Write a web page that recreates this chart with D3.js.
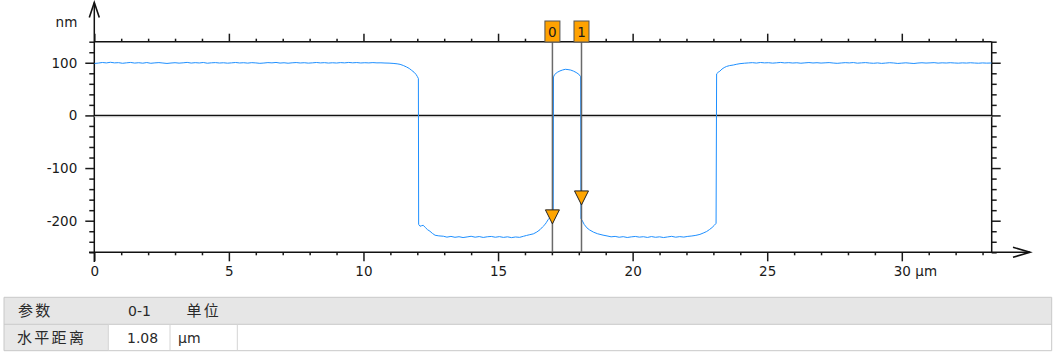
<!DOCTYPE html>
<html><head><meta charset="utf-8">
<script src="https://cdn.jsdelivr.net/npm/d3@7"></script>
<style>
html,body{margin:0;padding:0;background:#fff;}
svg{display:block;}
</style></head>
<body>
<script>
// ---- data ----
const xDomain = [0, 33.34];          // µm
const yDomain = [-260, 140];         // nm
const xMajorTicks = [0, 5, 10, 15, 20, 25, 30];
const yMajorTicks = [-200, -100, 0, 100];
const xUnit = "µm";
const yUnit = "nm";
const cursorIds = ["0", "1"];
const cursorX = [17.02, 18.10];
const cursorY = [-206, -170];
const tableHeader = ["参数", "0-1", "单位"];
const tableRow = ["水平距离", "1.08", "µm"];
// profile: [position µm, height nm]
const profile = [
[0,98.6],[0.15,99.4],[0.3,100.5],[0.45,99.7],[0.6,100.9],[0.75,99.8],[0.9,100.2],[1.05,99.0],[1.2,99.9],[1.35,100.6],
[1.5,99.4],[1.65,100.1],[1.8,99.2],[1.95,100.4],[2.1,99.0],[2.25,99.8],[2.4,100.3],[2.55,99.5],[2.7,98.7],[2.85,99.5],
[3,100.1],[3.15,99.3],[3.3,99.9],[3.45,100.7],[3.6,99.4],[3.75,100.2],[3.9,99.6],[4.05,100.5],[4.2,99.1],[4.35,99.9],
[4.5,100.3],[4.65,99.5],[4.8,100.0],[4.95,99.2],[5.1,99.8],[5.25,100.5],[5.4,99.6],[5.55,100.1],[5.7,99.3],[5.85,100.2],
[6,99.7],[6.15,98.9],[6.3,99.5],[6.45,100.3],[6.6,99.8],[6.75,100.6],[6.9,99.4],[7.05,100.0],[7.2,99.1],[7.35,99.9],
[7.5,100.4],[7.65,99.6],[7.8,100.1],[7.95,99.3],[8.1,99.8],[8.25,100.5],[8.4,99.7],[8.55,100.2],[8.7,99.4],[8.85,100.0],
[9,99.5],[9.15,100.3],[9.3,99.8],[9.45,100.6],[9.6,99.9],[9.75,100.4],[9.9,99.6],[10.05,100.1],[10.2,99.7],[10.35,100.3],
[10.5,99.8],[10.65,99.9],[10.8,99.5],[10.95,99.3],[11.1,98.8],[11.25,98.0],[11.36,97.0],[11.48,94.8],[11.6,92.0],[11.7,89.2],
[11.79,85.6],[11.88,82.0],[11.95,78.0],[12.0,74.0],[12.04,70.0],
[12.05,-207],[12.1,-210.5],[12.16,-209.5],[12.22,-208.7],[12.3,-213],[12.38,-217],[12.47,-220],[12.56,-224],[12.66,-227.6],
[12.8,-228.8],[12.97,-229.5],
[13.1,-231.2],[13.25,-229.8],[13.4,-231.5],[13.55,-230.4],[13.7,-232.0],[13.85,-230.8],[14,-229.6],[14.15,-231.3],[14.3,-230.1],
[14.45,-231.8],[14.6,-230.5],[14.75,-229.9],[14.9,-231.4],[15.05,-230.2],[15.2,-231.7],[15.35,-230.6],[15.5,-232.1],[15.65,-230.9],
[15.8,-231.6],[15.95,-229.5],[16.06,-228],[16.18,-226.5],[16.31,-225],[16.44,-221.5],[16.56,-217],[16.65,-212],[16.74,-207.5],
[16.8,-203],[16.86,-198],[16.93,-194],[17.0,-190],[17.05,-186],
[17.06,73],[17.1,77.5],[17.2,81.8],[17.3,84.5],[17.4,86.3],[17.5,87.6],[17.6,87.0],[17.7,86.1],[17.8,84.2],[17.9,81.6],
[18.0,78.2],[18.07,73.5],
[18.08,-196],[18.14,-201],[18.2,-207],[18.3,-213.5],[18.4,-217.5],[18.55,-221.8],[18.7,-224.8],[18.9,-227.4],[19.05,-228.9],
[19.2,-230.6],[19.35,-229.8],[19.5,-231.4],[19.65,-230.3],[19.8,-231.9],[19.95,-230.7],[20.1,-229.9],[20.25,-231.2],[20.4,-230.4],
[20.55,-231.8],[20.7,-230.1],[20.85,-231.5],[21,-230.6],[21.15,-232.0],[21.3,-230.8],[21.45,-229.7],[21.6,-231.3],[21.75,-230.2],
[21.9,-231.1],[22.05,-229.8],[22.2,-229.0],[22.35,-227.8],[22.5,-226],[22.62,-223.5],[22.75,-220.5],[22.85,-217],[22.95,-213],
[23.03,-209],[23.1,-205],
[23.12,79],[23.18,82],[23.24,84],[23.32,88],[23.4,90.8],[23.49,93],[23.6,94.6],[23.74,95.7],[23.87,97.2],[23.99,98.3],
[24.15,99.1],[24.3,99.7],[24.45,100.2],[24.6,99.4],[24.75,100.5],[24.9,99.8],[25.05,100.1],[25.2,99.3],[25.35,99.9],[25.5,100.6],
[25.65,99.7],[25.8,100.2],[25.95,99.5],[26.1,100.0],[26.25,99.1],[26.4,99.8],[26.55,100.4],[26.7,99.6],[26.85,100.1],[27,99.4],
[27.15,99.9],[27.3,100.3],[27.45,99.5],[27.6,98.9],[27.75,99.6],[27.9,100.2],[28.05,99.7],[28.2,100.4],[28.35,99.2],[28.5,99.8],
[28.65,100.3],[28.8,99.5],[28.95,99.0],[29.1,99.7],[29.25,98.8],[29.4,99.4],[29.55,100.1],[29.7,99.6],[29.85,98.7],[30,99.3],
[30.15,99.9],[30.3,99.2],[30.45,98.6],[30.6,99.5],[30.75,100.0],[30.9,99.4],[31.05,99.8],[31.2,100.2],[31.35,99.3],[31.5,99.9],
[31.65,99.5],[31.8,100.1],[31.95,99.6],[32.1,99.2],[32.25,99.8],[32.4,99.4],[32.55,100.0],[32.7,99.5],[32.85,99.1],[33.0,99.7],
[33.15,99.3],[33.3,99.5],[33.34,99.6]
];

// ---- layout ----
const W = 1059, H = 358;
const L = 94.3, R = 991.7, T = 41.7, B = 252.3;
const FONT = "'DejaVu Sans', Verdana, sans-serif";
const CJK = "'Noto Sans CJK SC', sans-serif";

const x = d3.scaleLinear().domain(xDomain).range([L, R]);
const y = d3.scaleLinear().domain(yDomain).range([B, T]);

const svg = d3.select("body").append("svg").attr("width", W).attr("height", H);

svg.append("defs").append("clipPath").attr("id", "clip")
  .append("rect").attr("x", L).attr("y", T).attr("width", R - L).attr("height", B - T);

const xMinor = d3.range(Math.ceil(xDomain[0]), Math.floor(xDomain[1]) + 1, 1);
const yMinor = d3.range(yDomain[0], yDomain[1] + 1, 20);
const isXMaj = d => xMajorTicks.includes(d);
const isYMaj = d => yMajorTicks.includes(d);

function styleAxis(g) {
  g.select(".domain").remove();
  g.selectAll(".tick line").attr("stroke", "#1a1a1a").attr("stroke-width", 1.5);
  g.selectAll(".tick text").attr("fill", "#1a1a1a").style("font-family", FONT).style("font-size", "13.5px");
}

const gl = svg.append("g").attr("transform", `translate(${L},0)`)
  .call(d3.axisLeft(y).tickValues(yMinor).tickSize(5).tickFormat(d => isYMaj(d) ? d : ""));
styleAxis(gl);
gl.selectAll(".tick line").attr("x2", d => isYMaj(d) ? -9 : -5);
gl.selectAll(".tick text").attr("x", -17);

const gr = svg.append("g").attr("transform", `translate(${R},0)`)
  .call(d3.axisRight(y).tickValues(yMinor).tickSize(5).tickFormat(""));
styleAxis(gr);
gr.selectAll(".tick line").attr("x2", d => isYMaj(d) ? 9 : 5);

const gb = svg.append("g").attr("transform", `translate(0,${B})`)
  .call(d3.axisBottom(x).tickValues(xMinor).tickSize(3).tickFormat(d => isXMaj(d) ? d : ""));
styleAxis(gb);
gb.selectAll(".tick line").attr("y2", d => isXMaj(d) ? 9 : 3);
gb.selectAll(".tick text").attr("y", 14.4);

const gt = svg.append("g").attr("transform", `translate(0,${T})`)
  .call(d3.axisTop(x).tickValues(xMinor).tickSize(3).tickFormat(""));
styleAxis(gt);
gt.selectAll(".tick line").attr("y2", d => isXMaj(d) ? -8 : -3);

const lastMaj = xMajorTicks[xMajorTicks.length - 1];
svg.append("text").attr("x", x(lastMaj) + 13.5).attr("y", B + 14.4).attr("dy", "0.71em")
  .attr("fill", "#1a1a1a").style("font-family", FONT).style("font-size", "13.5px").text(xUnit);
svg.append("text").attr("x", L - 17).attr("y", 26.5).attr("text-anchor", "end")
  .attr("fill", "#1a1a1a").style("font-family", FONT).style("font-size", "13.5px").text(yUnit);

const ln = (x1, y1, x2, y2, c = "#111", w = 1.5) => svg.append("line")
  .attr("x1", x1).attr("y1", y1).attr("x2", x2).attr("y2", y2)
  .attr("stroke", c).attr("stroke-width", w);
ln(L, T, R, T);
ln(R, T, R, B);
ln(L, 2.5, L, 262);
ln(89, B, 1030, B);
svg.append("path").attr("d", `M${L - 5},17.5 L${L},2.5 L${L + 5},17.5`)
  .attr("fill", "none").attr("stroke", "#111").attr("stroke-width", 1.6);
svg.append("path").attr("d", `M1013,${B - 5} L1030,${B} L1013,${B + 5}`)
  .attr("fill", "none").attr("stroke", "#111").attr("stroke-width", 1.6);

ln(L, y(0) + 1.3, R, y(0) + 1.3, "#b8b8b8", 1);
ln(L, y(0), R, y(0), "#111", 1.4);

svg.append("path").datum(profile)
  .attr("clip-path", "url(#clip)")
  .attr("fill", "none").attr("stroke", "#1e8fff").attr("stroke-width", 1)
  .attr("d", d3.line().x(d => x(d[0])).y(d => y(d[1])));

const cur = svg.append("g");
cursorX.forEach((cx, i) => {
  const px = x(cx);
  cur.append("line").attr("x1", px).attr("x2", px).attr("y1", 42).attr("y2", B)
    .attr("stroke", "#5a5a5a").attr("stroke-width", 1.5).attr("opacity", 0.9);
  cur.append("rect").attr("x", px - 7.5).attr("y", 21).attr("width", 15).attr("height", 21)
    .attr("fill", "#ffa200").attr("stroke", "#555").attr("stroke-width", 1);
  cur.append("text").attr("x", px).attr("y", 37).attr("text-anchor", "middle")
    .attr("fill", "#1a1a1a").style("font-family", FONT).style("font-size", "13.5px").text(cursorIds[i]);
  const ty = y(cursorY[i]);
  cur.append("path").attr("d", `M${px - 7},${ty - 14} L${px + 7},${ty - 14} L${px},${ty} Z`)
    .attr("fill", "#ffa500").attr("stroke", "#222").attr("stroke-width", 1);
});

const tb = svg.append("g");
const tL = 4, tR = 1051.7, r0 = 297.3, r1 = 324.3, r2 = 350.7;
const colX = [tL, 108.3, 170, 237.3, tR];
tb.append("rect").attr("x", tL).attr("y", r0).attr("width", tR - tL).attr("height", r1 - r0).attr("fill", "#e6e6e6");
tb.append("rect").attr("x", tL).attr("y", r1).attr("width", colX[1] - tL).attr("height", r2 - r1).attr("fill", "#e8e8e8");
[r0, r1, r2].forEach(r => tb.append("line").attr("x1", tL).attr("x2", tR).attr("y1", r).attr("y2", r)
  .attr("stroke", "#c8c8c8").attr("stroke-width", 1));
[tL, tR].forEach(c => tb.append("line").attr("x1", c).attr("x2", c).attr("y1", r0).attr("y2", r2)
  .attr("stroke", "#c8c8c8").attr("stroke-width", 1));
colX.slice(1, 4).forEach(c => {
  tb.append("line").attr("x1", c).attr("x2", c).attr("y1", r1).attr("y2", r2).attr("stroke", "#d4d4d4").attr("stroke-width", 1);
});
const hdrX = [18, 128, 186.5];
const rowX = [17, 127, 178];
const isCJK = s => /[\u4e00-\u9fff]/.test(s);
function cell(txt, px, py) {
  tb.append("text").attr("x", px).attr("y", py).attr("dy", "0.36em")
    .attr("fill", "#2a2a2a")
    .style("font-family", isCJK(txt) ? CJK : FONT)
    .style("font-size", isCJK(txt) ? "15px" : "14px")
    .style("letter-spacing", isCJK(txt) ? "2.3px" : "0px")
    .text(txt);
}
tableHeader.forEach((t, i) => cell(t, hdrX[i], (r0 + r1) / 2));
tableRow.forEach((t, i) => cell(t, rowX[i], (r1 + r2) / 2));
</script>
</body></html>
